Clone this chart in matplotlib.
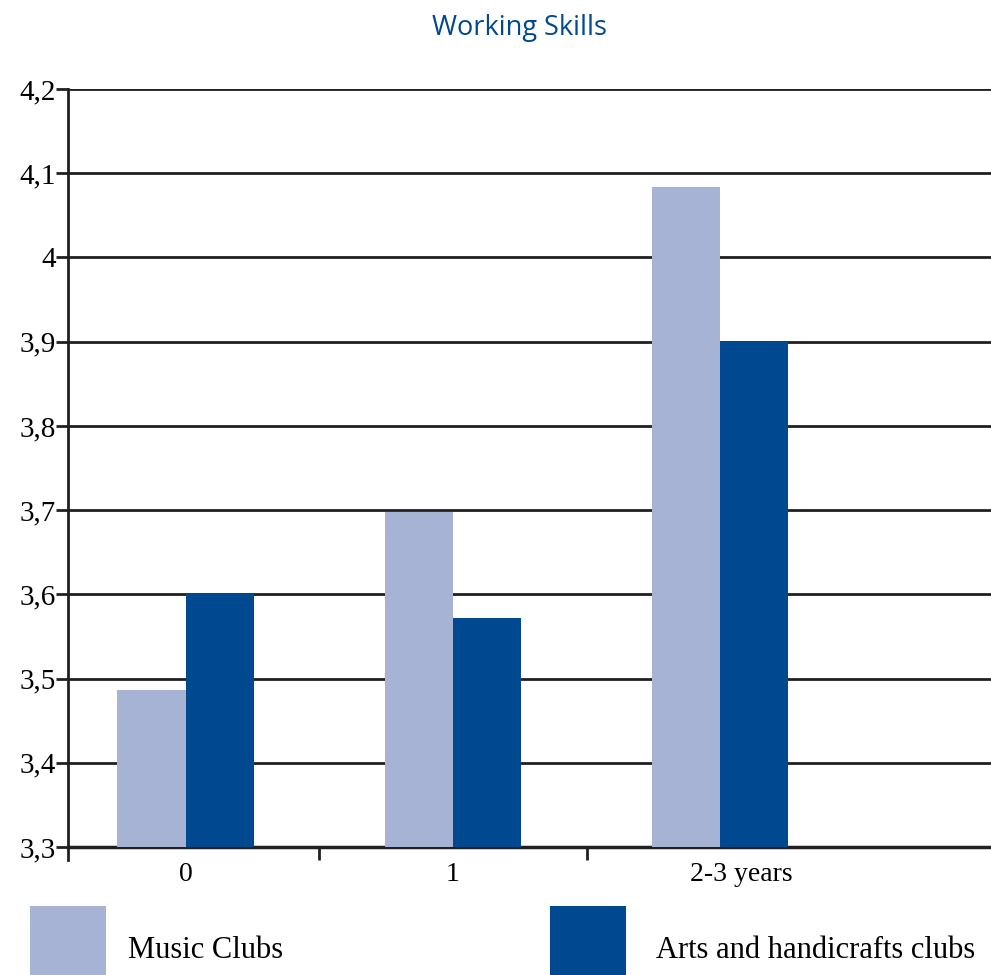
import matplotlib
matplotlib.use("Agg")
import matplotlib.pyplot as plt
from matplotlib.patches import Rectangle
import matplotlib.transforms as mtransforms

categories = ["0", "1", "2-3 years"]
music = [3.486, 3.698, 4.084]
arts = [3.600, 3.572, 3.900]
series_names = ["Music Clubs", "Arts and handicrafts clubs"]
yticks = [3.3, 3.4, 3.5, 3.6, 3.7, 3.8, 3.9, 4.0, 4.1, 4.2]
ytick_labels = ["3,3", "3,4", "3,5", "3,6", "3,7", "3,8", "3,9", "4", "4,1", "4,2"]

c_light = "#a6b3d5"
c_dark = "#004990"
c_line = "#231f20"
serif = "Liberation Serif"

W, H = 991, 975
fig = plt.figure(figsize=(W / 100, H / 100), dpi=100)
ax = fig.add_axes([68 / W, 1 - 847 / H, 1 - 68 / W + 0.01, (847 - 89) / H])

x = list(range(len(categories)))
bw = 0.255
ax.bar([i - bw / 2 for i in x], music, width=bw, color=c_light, zorder=3, linewidth=0)
ax.bar([i + bw / 2 for i in x], arts, width=bw, color=c_dark, zorder=3, linewidth=0)

for yv in yticks:
    ax.axhline(yv, color=c_line, lw=2.0, zorder=2)

ax.set_ylim(3.3, 4.2)
ax.set_xlim(-0.44, 3.05)
for s in ["top", "right"]:
    ax.spines[s].set_visible(False)
ax.spines["left"].set_color(c_line)
ax.spines["left"].set_linewidth(2.0)
ax.spines["bottom"].set_color(c_line)
ax.spines["bottom"].set_linewidth(2.5)
ax.spines["left"].set_bounds(3.3 - 0.015, 4.2)

ax.set_yticks(yticks)
ax.set_yticklabels(ytick_labels, fontfamily=serif, fontsize=21)
ax.tick_params(axis="y", length=9, width=2, color=c_line, pad=0)

ax.set_xticks([0.5, 1.5])
ax.set_xticklabels([])
ax.tick_params(axis="x", length=9, width=2, color=c_line)

for i, c in enumerate(categories):
    off = 21 if i == 2 else 0
    tr = ax.transData + mtransforms.ScaledTranslation(off / 100, -15 / 100, fig.dpi_scale_trans)
    ax.text(i, 3.3, c, transform=tr, ha="center", va="top",
            fontfamily=serif, fontsize=20, clip_on=False)

fig.text(520 / W, 1 - 28 / H, "Working Skills", ha="center", va="center",
         fontsize=19.5, color=c_dark, fontfamily="Open Sans")

# legend
fig.add_artist(Rectangle((30 / W, 0), 76 / W, 69 / H, transform=fig.transFigure,
                         color=c_light, lw=0))
fig.add_artist(Rectangle((550 / W, 0), 76 / W, 69 / H, transform=fig.transFigure,
                         color=c_dark, lw=0))
fig.text(128 / W, 1 - 950 / H, series_names[0], ha="left", va="center",
         fontfamily=serif, fontsize=22)
fig.text(656 / W, 1 - 950 / H, series_names[1], ha="left", va="center",
         fontfamily=serif, fontsize=22)

fig.savefig("out.png", dpi=100)
